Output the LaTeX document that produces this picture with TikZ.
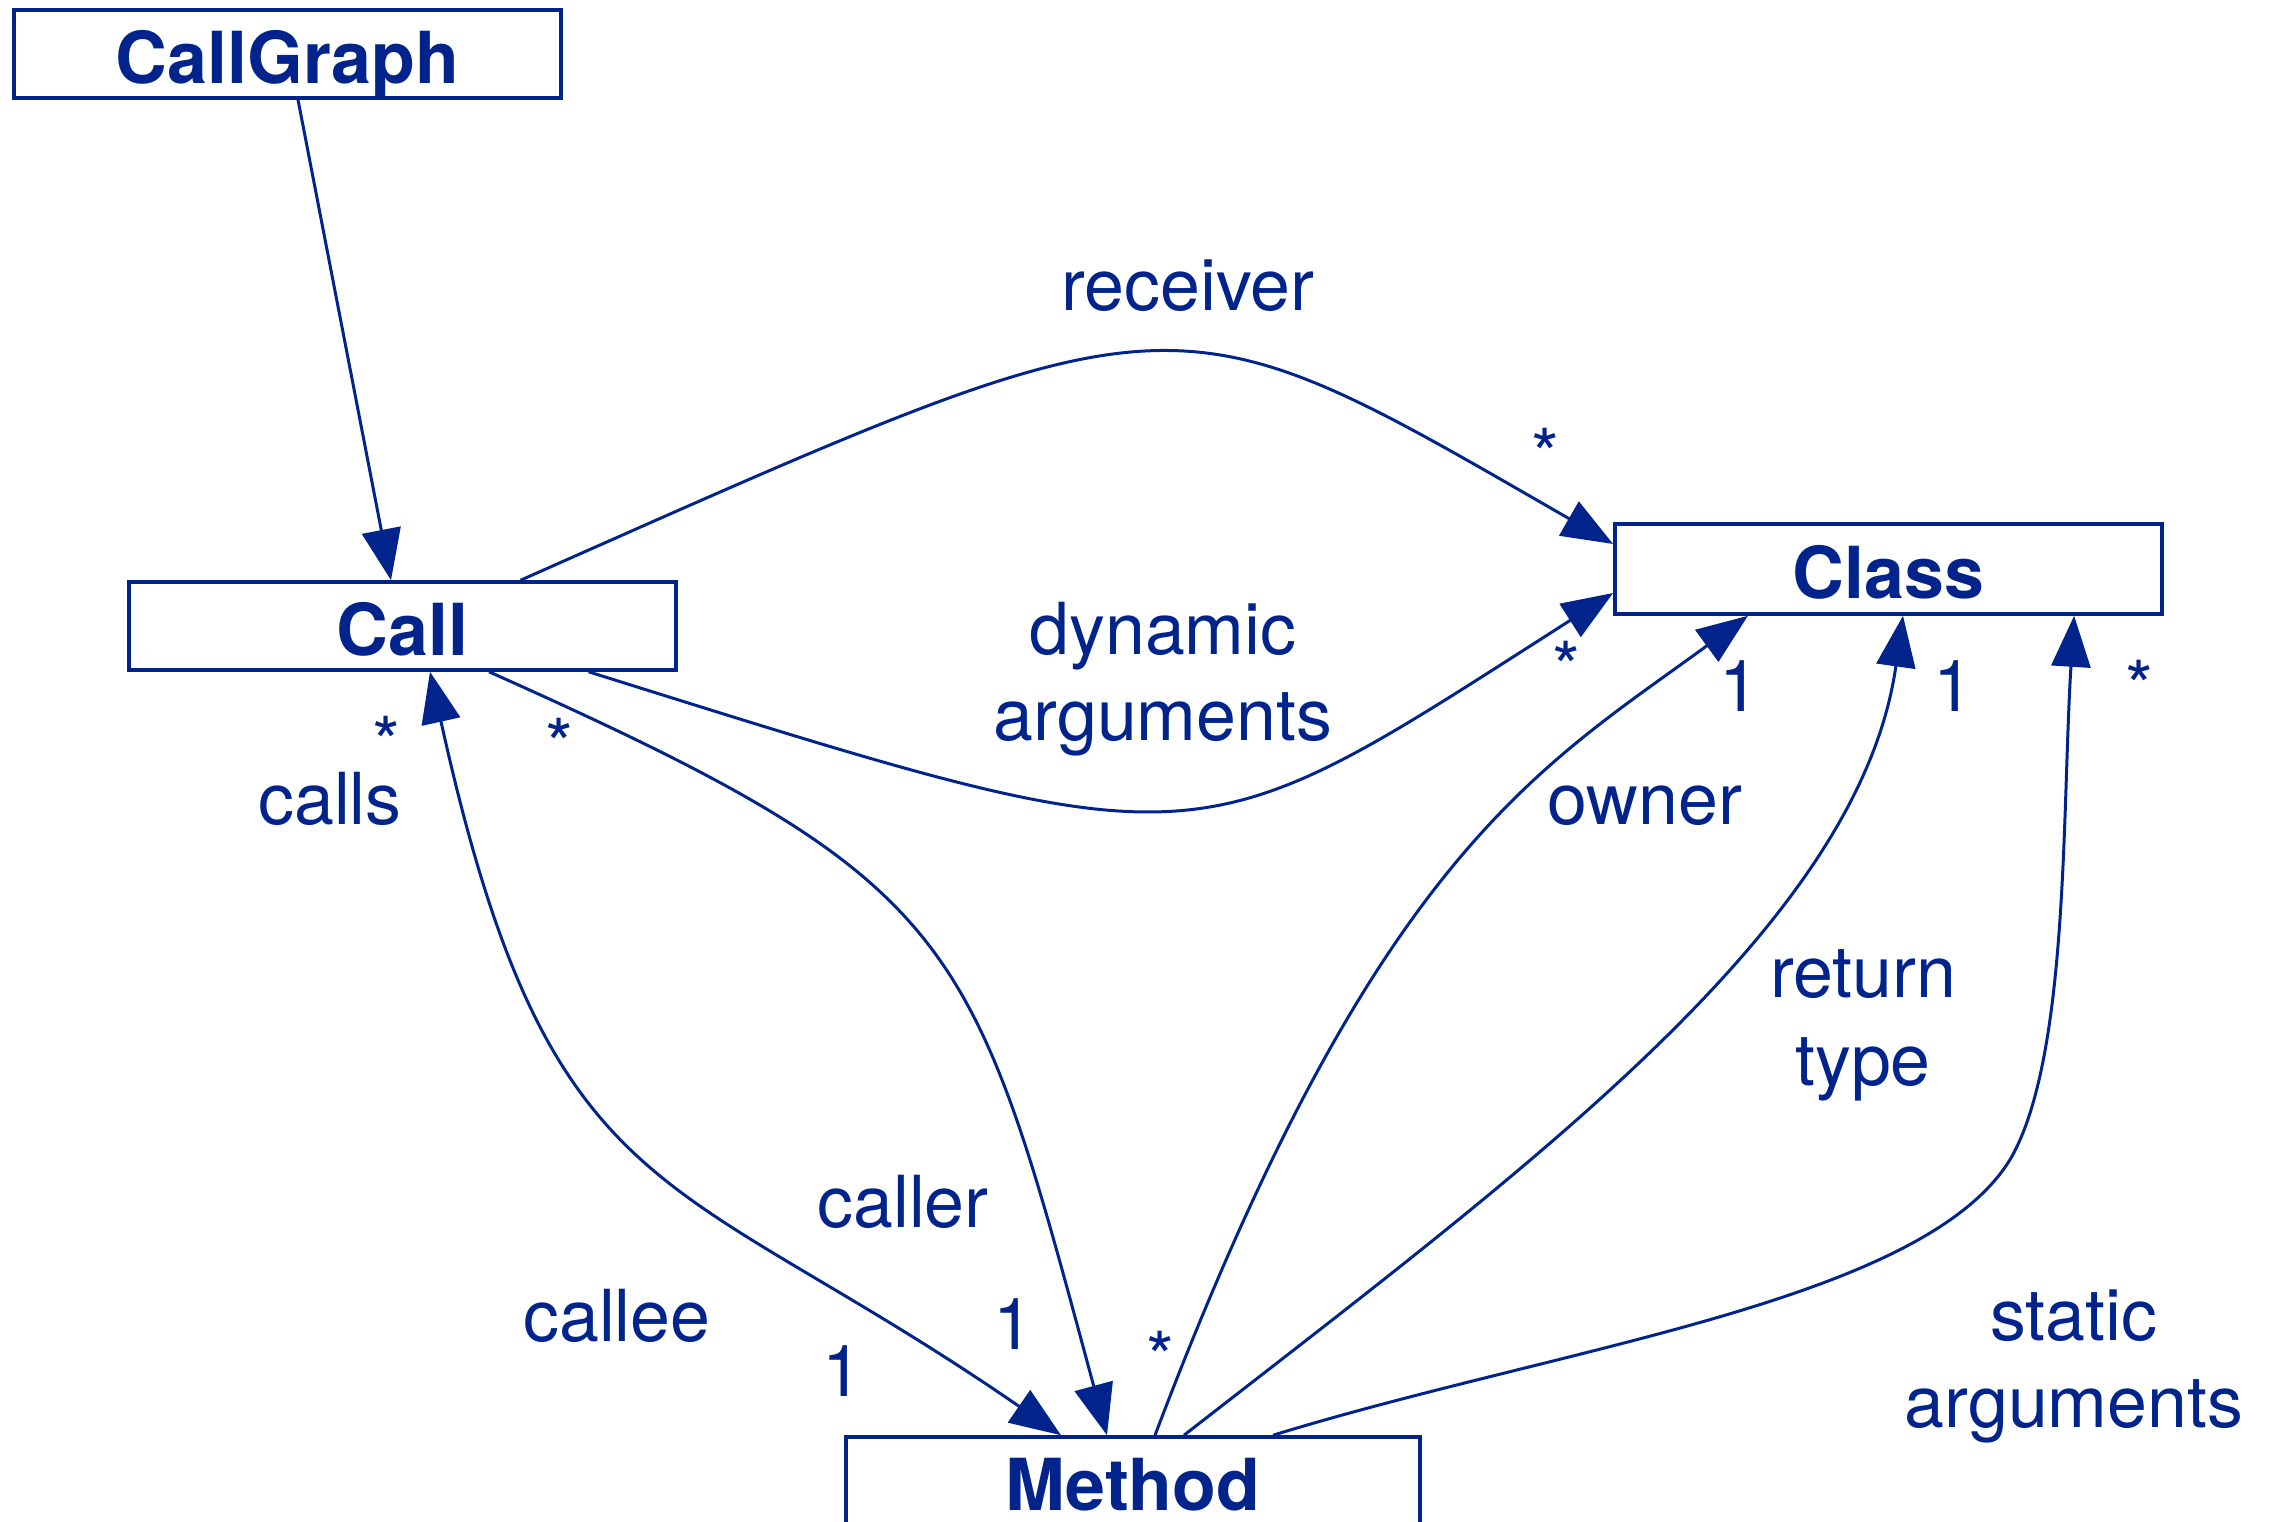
\documentclass[tikz,border=0pt]{standalone}
\usepackage{fontspec}
\setmainfont{TeX Gyre Heros}
\usetikzlibrary{arrows.meta}
\definecolor{umlblue}{RGB}{0,36,140}

\begin{document}
\begin{tikzpicture}[x=0.01cm, y=-0.01cm,
        umltip/.tip={Triangle[length=5.1mm, width=3.9mm]},
        clase/.style={draw=umlblue, line width=1pt, text=umlblue, inner sep=0pt,
            minimum width=5.47cm, minimum height=0.88cm, text height=0.59cm, text depth=0pt,
            font=\fontsize{20.4}{25}\selectfont\bfseries},
        assoc/.style={umlblue, line width=0.85pt},
        rol/.style={text=umlblue, anchor=base, inner sep=0pt, font=\fontsize{20.4}{25}\selectfont}]
        \useasboundingbox (0,0) rectangle (2269,1522);

        % Las clases (cajas)
        \node[clase] (CallGraph) at (287.5,54) {CallGraph};
        \node[clase] (Call) at (402.5,626) {Call};
        \node[clase, minimum height=0.9cm] (Class) at (1888.5,569) {Class};
        \node[clase, minimum width=5.74cm] (Method) at (1133,1481) {Method};

        % CallGraph contiene las llamadas
        \draw[assoc, -umltip] ([xshift=0.105cm]CallGraph.south) -- ([xshift=-0.115cm]Call.north);

        % Receptor y argumentos dinamicos
        \draw[assoc, -umltip] ([xshift=1.18cm]Call.north) .. controls (1187,285) and (1163,285) .. ([yshift=0.25cm]Class.west);
        \node[rol] (lblreceiver) at (1188,311) {receiver};
        \node[rol] (mulreceiver) at (1545,481) {*};
        \draw[assoc, -umltip] ([xshift=1.86cm]Call.south) .. controls (1215,868) and (1187,865) .. ([yshift=-0.24cm]Class.west);
        \node[rol] (lbldyn) at (1163,655) {dynamic};
        \node[rol] (lbldynb) at (1163,741) {arguments};
        \node[rol] (muldyn) at (1566,694) {*};

        % calls / callee
        \draw[assoc, umltip-umltip] ([xshift=0.275cm]Call.south) .. controls (550,1215) and (669,1165) .. ([xshift=-0.72cm]Method.north);
        \node[rol] (mulcalls) at (386,769) {*};
        \node[rol] (lblcalls) at (330,825) {calls};
        \node[rol] (lblcallee) at (617,1341) {callee};
        \node[rol] (mulcallee) at (842,1396) {1};

        % caller
        \draw[assoc, -umltip] ([xshift=0.865cm]Call.south) .. controls (964,884) and (971,932) .. ([xshift=-0.26cm]Method.north);
        \node[rol] (mulcaller) at (559,771) {*};
        \node[rol] (lblcaller) at (903,1227) {caller};
        \node[rol] (mulcallerb) at (1013,1349) {1};

        % owner
        \draw[assoc, -umltip] ([xshift=0.22cm]Method.north) .. controls (1375,854) and (1541,767) .. ([xshift=-1.405cm]Class.south);
        \node[rol] (mulowner) at (1160,1383) {*};
        \node[rol] (lblowner) at (1645,825) {owner};
        \node[rol] (mulownerb) at (1739,712) {1};

        % return type
        \draw[assoc, -umltip] ([xshift=0.51cm]Method.north) .. controls (1527,1168) and (1859,926) .. ([xshift=0.145cm]Class.south);
        \node[rol] (lblreturn) at (1863,998) {return};
        \node[rol] (lblreturnb) at (1863,1085) {type};
        \node[rol] (mulreturn) at (1953,712) {1};

        % argumentos estaticos
        \draw[assoc, -umltip] ([xshift=1.40cm]Method.north) .. controls (1563,1346) and (1925,1302) .. (2011,1158)
            .. controls (2069,1056) and (2062,810) .. ([xshift=1.855cm]Class.south);
        \node[rol] (lblstatic) at (2074,1340) {static};
        \node[rol] (lblstaticb) at (2074,1427) {arguments};
        \node[rol] (mulstatic) at (2139,713) {*};
    \end{tikzpicture}
\end{document}
